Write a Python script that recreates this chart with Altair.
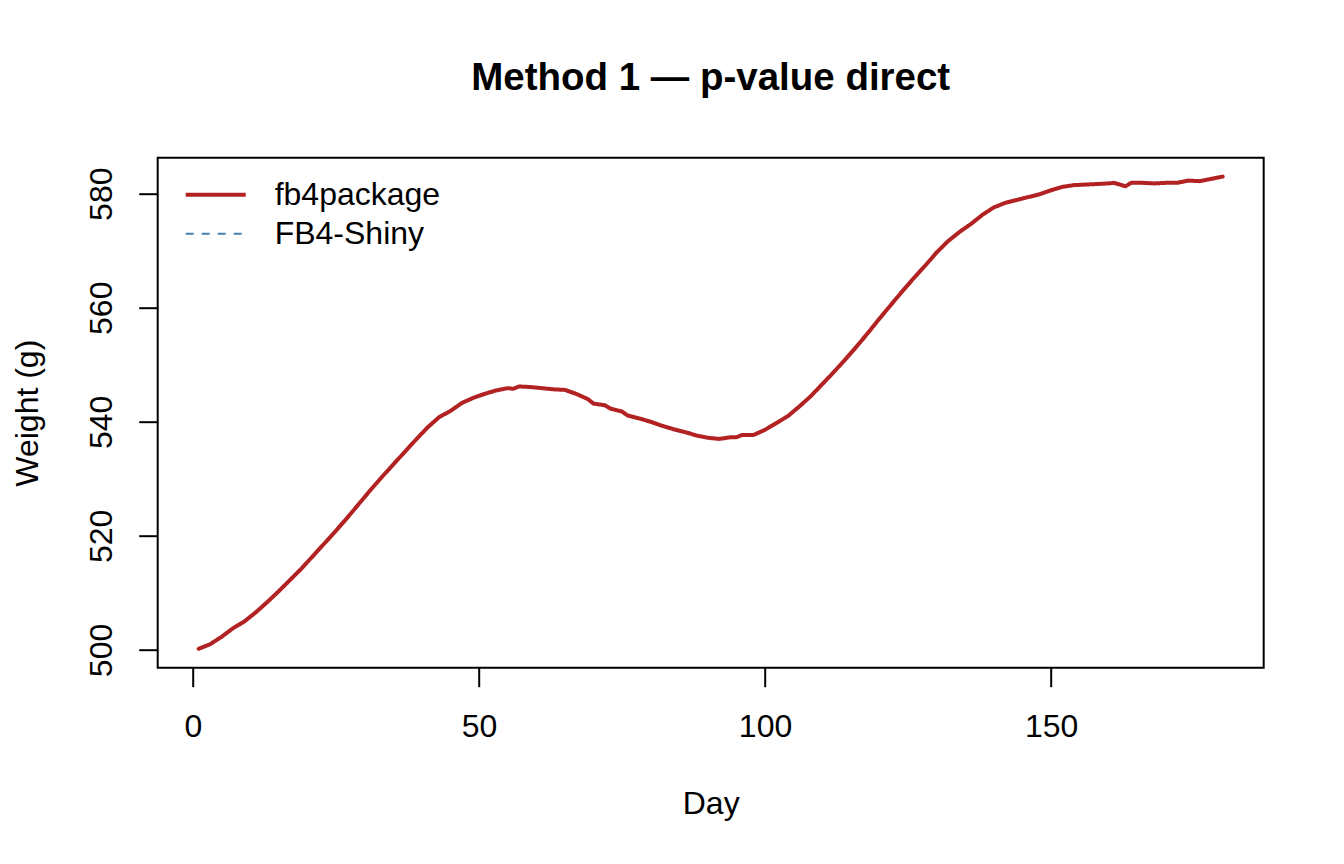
import altair as alt
import pandas as pd

# Series: fb4package weight trajectory
days = [1, 3, 5, 7, 9, 11, 13, 15, 17, 19, 21, 23, 25, 27, 29, 31, 33, 35, 37, 39,
        41, 43, 45, 47, 49, 51, 53, 55, 56, 57, 59, 61, 63, 65, 67, 69, 70, 72, 73, 75,
        76, 78, 80, 82, 84, 86, 88, 90, 92, 94, 95, 96, 98, 100, 102, 104, 106, 108, 110, 112,
        114, 116, 118, 120, 122, 124, 126, 128, 130, 132, 134, 136, 138, 140, 142, 144, 146, 148, 150, 152,
        154, 156, 158, 160, 161, 162, 163, 164, 166, 168, 170, 172, 174, 176, 178, 180]
weights = [500.2, 501.0, 502.3, 503.8, 505.0, 506.6, 508.4, 510.3, 512.3, 514.3,
           516.5, 518.7, 520.9, 523.2, 525.6, 528.0, 530.3, 532.5, 534.7, 536.9,
           539.0, 540.8, 541.9, 543.3, 544.2, 544.9, 545.5, 545.9, 545.8, 546.2,
           546.1, 545.9, 545.7, 545.6, 544.9, 544.0, 543.2, 542.9, 542.3, 541.8,
           541.1, 540.6, 540.0, 539.3, 538.7, 538.2, 537.6, 537.2, 537.0, 537.3,
           537.3, 537.7, 537.7, 538.6, 539.8, 541.0, 542.7, 544.5, 546.6, 548.7,
           550.9, 553.2, 555.6, 558.1, 560.5, 562.9, 565.2, 567.4, 569.7, 571.7,
           573.3, 574.7, 576.3, 577.6, 578.4, 578.9, 579.4, 579.9, 580.6, 581.2,
           581.5, 581.6, 581.7, 581.8, 581.9, 581.6, 581.3, 581.9, 581.9, 581.8,
           581.9, 581.9, 582.3, 582.2, 582.6, 583.0]

series_names = ["fb4package", "FB4-Shiny"]
series_colors = ["#B22222", "#4682B4"]
series_dashes = [[1, 0], [8, 8]]
series_widths = [4, 2]

x_ticks = [0, 50, 100, 150]
y_ticks = [500, 520, 540, 560, 580]

df = pd.DataFrame({"Day": days, "Weight": weights, "Series": "fb4package"})

# R-style 4% axis padding
xmin, xmax = min(days), max(days)
ymin, ymax = min(weights), max(weights)
xpad = 0.04 * (xmax - xmin)
ypad = 0.04 * (ymax - ymin)

FONT = "Liberation Sans"
FS = 32


def make_legend():
    return alt.Legend(title=None, orient="none", legendX=42, legendY=21,
                      symbolType="M-3,0H3", symbolSize=400,
                      labelFontSize=FS, labelFont=FONT, labelColor="black",
                      labelLimit=500, labelOffset=43, padding=0, rowPadding=7)


chart = alt.Chart(df).mark_line(interpolate="linear", strokeCap="round", strokeJoin="round").encode(
    x=alt.X("Day:Q",
            scale=alt.Scale(domain=[xmin - xpad, xmax + xpad], nice=False, zero=False),
            axis=alt.Axis(values=x_ticks, title="Day", grid=False, domain=False,
                          tickSize=19, tickWidth=2, tickColor="black",
                          labelFontSize=FS, labelFont=FONT, labelColor="black",
                          labelBaseline="alphabetic", labelPadding=50, labelFlush=False,
                          titleFontSize=FS, titleFont=FONT, titleFontWeight="normal",
                          titleColor="black", titleBaseline="alphabetic",
                          titleX=553, titleY=146, titleAnchor="middle")),
    y=alt.Y("Weight:Q",
            scale=alt.Scale(domain=[ymin - ypad, ymax + ypad], nice=False, zero=False),
            axis=alt.Axis(values=y_ticks, title="Weight (g)", grid=False, domain=False,
                          tickSize=19, tickWidth=2, tickColor="black",
                          labelFontSize=FS, labelFont=FONT, labelColor="black",
                          labelAngle=270, labelAlign="center", labelBaseline="alphabetic",
                          labelPadding=27, labelFlush=False,
                          titleFontSize=FS, titleFont=FONT, titleFontWeight="normal",
                          titleColor="black", titleAngle=270, titleAlign="center",
                          titleBaseline="alphabetic", titleX=-120, titleY=255)),
    color=alt.Color("Series:N",
                    scale=alt.Scale(domain=series_names, range=series_colors),
                    legend=make_legend()),
    strokeDash=alt.StrokeDash("Series:N",
                              scale=alt.Scale(domain=series_names, range=series_dashes),
                              legend=make_legend()),
    strokeWidth=alt.StrokeWidth("Series:N",
                                scale=alt.Scale(domain=series_names, range=series_widths),
                                legend=make_legend()),
).properties(
    width=1106,
    height=510,
    title=alt.TitleParams("Method 1 \u2014 p-value direct", fontSize=38.5, font=FONT,
                          fontWeight="bold", anchor="middle", baseline="alphabetic",
                          offset=29, color="black"),
    padding={"left": 149.7, "top": 149.7, "right": 70, "bottom": 190},
    autosize=alt.AutoSizeParams(type="none"),
    background="white",
).configure_view(
    stroke="black", strokeWidth=2
)

chart.save("out.html", embed_options={"renderer": "svg", "actions": False})
